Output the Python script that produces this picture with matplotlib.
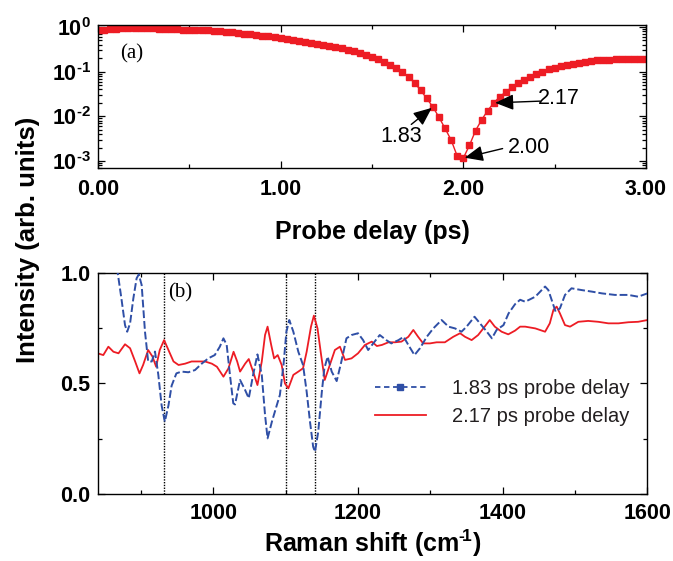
import numpy as np
import matplotlib
matplotlib.use("Agg")
import matplotlib.pyplot as plt
from matplotlib.lines import Line2D
from matplotlib.ticker import MultipleLocator, FuncFormatter, LogLocator, NullFormatter

# ---------------- data ----------------
# (a) signal vs probe delay (uniform sampling, 1/30 ps)
probe_delay_ps = np.linspace(0.0, 3.0, 91)
signal_a = [0.851, 0.871, 0.891, 0.912, 0.923, 0.933, 0.933, 0.933, 0.933, 0.923,
            0.912, 0.902, 0.891, 0.881, 0.871, 0.861, 0.851, 0.841, 0.832, 0.813,
            0.794, 0.776, 0.759, 0.733, 0.708, 0.684, 0.661, 0.631, 0.610, 0.589,
            0.562, 0.537, 0.513, 0.490, 0.468, 0.447, 0.422, 0.398, 0.372, 0.351,
            0.331, 0.302, 0.282, 0.257, 0.234, 0.214, 0.191, 0.166, 0.141, 0.120,
            0.0977, 0.0759, 0.0562, 0.0380, 0.0251, 0.0162, 0.00955, 0.00537, 0.00295, 0.00129,
            0.00117, 0.00224, 0.00479, 0.00832, 0.0135, 0.0200, 0.0275, 0.0355, 0.0447, 0.0550,
            0.0661, 0.0776, 0.0891, 0.100, 0.112, 0.123, 0.132, 0.141, 0.151, 0.158,
            0.166, 0.172, 0.178, 0.182, 0.186, 0.188, 0.191, 0.191, 0.191, 0.191, 0.191]

annot_labels = ["1.83", "2.00", "2.17"]
annot_index = [55, 60, 65]

# (b) Raman spectra
shift_183 = [840, 850, 860, 868, 873, 878, 881, 885, 889.5, 894, 897, 901, 905.6, 910, 915,
             919.4, 924, 928.6, 933, 938, 942.4, 949, 956, 965.5, 974.7, 984, 993, 1002, 1009,
             1014, 1018.5, 1023, 1027.6, 1030, 1037, 1044, 1049, 1055, 1061, 1067, 1071.5, 1075,
             1081, 1087.6, 1092, 1097, 1101, 1105, 1110.6, 1117.5, 1124, 1129, 1133.6, 1138,
             1140.5, 1145, 1150, 1153.5, 1158, 1163.6, 1170.5, 1177, 1184, 1191, 1200, 1207,
             1214, 1221, 1230, 1239, 1246, 1256, 1263, 1269.5, 1278, 1285.6, 1295, 1304, 1315.5,
             1325, 1334, 1343, 1350, 1361, 1368.5, 1378, 1385, 1391.5, 1401, 1408, 1417, 1424,
             1431, 1445, 1458.5, 1463, 1467.6, 1473, 1479, 1486, 1495, 1509, 1523, 1537, 1555,
             1573.5, 1587, 1600]
intensity_183 = [1.20, 1.15, 1.08, 1.00, 0.886, 0.765, 0.735, 0.773, 0.886, 0.977, 0.995, 0.947,
                 0.735, 0.600, 0.600, 0.645, 0.540, 0.400, 0.327, 0.400, 0.490, 0.546, 0.554,
                 0.551, 0.561, 0.590, 0.614, 0.629, 0.667, 0.705, 0.675, 0.539, 0.410, 0.405,
                 0.516, 0.470, 0.433, 0.539, 0.632, 0.539, 0.357, 0.251, 0.327, 0.400, 0.448,
                 0.584, 0.735, 0.788, 0.735, 0.644, 0.584, 0.463, 0.327, 0.213, 0.190, 0.281,
                 0.463, 0.569, 0.622, 0.554, 0.511, 0.600, 0.705, 0.720, 0.728, 0.697, 0.652,
                 0.682, 0.720, 0.697, 0.682, 0.697, 0.712, 0.675, 0.629, 0.660, 0.712, 0.750,
                 0.788, 0.758, 0.750, 0.735, 0.758, 0.803, 0.773, 0.735, 0.705, 0.743, 0.765,
                 0.818, 0.860, 0.880, 0.871, 0.894, 0.940, 0.924, 0.879, 0.826, 0.841, 0.902,
                 0.932, 0.924, 0.917, 0.909, 0.902, 0.902, 0.894, 0.909]

shift_217 = [840, 848, 855, 862, 869, 878, 885, 892, 898, 903, 910, 916, 921, 926, 932, 938,
             945, 952, 961, 970, 979, 988.5, 998, 1005, 1014, 1021, 1028, 1033, 1037, 1044,
             1049, 1055, 1061, 1067, 1071.5, 1075, 1080, 1084, 1089, 1094.5, 1099, 1103.7,
             1110.6, 1117.5, 1124, 1129, 1135, 1139, 1144, 1149, 1154, 1161, 1168, 1175, 1182,
             1191, 1200, 1209.6, 1219, 1226, 1233, 1242, 1251, 1260, 1269.5, 1276.4, 1283, 1290,
             1299.4, 1308.6, 1320, 1331.6, 1341, 1347.8, 1357, 1366, 1375, 1382, 1389, 1398.4,
             1407.6, 1417, 1424, 1431, 1445, 1458.5, 1465, 1470, 1474.5, 1479, 1486, 1493,
             1504.4, 1518, 1532, 1546, 1560, 1573.5, 1587, 1600]
intensity_217 = [0.637, 0.629, 0.667, 0.644, 0.637, 0.678, 0.660, 0.600, 0.546, 0.584, 0.652,
                 0.622, 0.576, 0.652, 0.697, 0.652, 0.600, 0.584, 0.590, 0.600, 0.600, 0.600,
                 0.590, 0.576, 0.531, 0.569, 0.644, 0.600, 0.554, 0.590, 0.611, 0.554, 0.493,
                 0.600, 0.720, 0.758, 0.675, 0.614, 0.629, 0.584, 0.500, 0.478, 0.539, 0.554,
                 0.569, 0.644, 0.758, 0.808, 0.750, 0.629, 0.516, 0.584, 0.652, 0.667, 0.607,
                 0.614, 0.637, 0.675, 0.690, 0.670, 0.675, 0.687, 0.687, 0.690, 0.712, 0.743,
                 0.712, 0.682, 0.682, 0.687, 0.687, 0.712, 0.728, 0.712, 0.697, 0.720, 0.758,
                 0.788, 0.758, 0.735, 0.723, 0.740, 0.758, 0.758, 0.750, 0.735, 0.773, 0.834,
                 0.849, 0.818, 0.765, 0.758, 0.780, 0.784, 0.780, 0.773, 0.773, 0.778, 0.780,
                 0.788]

marker_shifts = [932, 1100, 1140]
legend_labels = ["1.83 ps probe delay", "2.17 ps probe delay"]

# ---------------- style ----------------
RED = "#ed1c24"
BLUE = "#2f4fa6"
TICKFONT = ["Liberation Sans", "DejaVu Sans"]
LABELFONT = ["Liberation Sans", "DejaVu Sans"]
TEXTFONT = ["Liberation Sans", "DejaVu Sans"]
SERIF = ["Liberation Serif", "DejaVu Serif"]

plt.rcParams["mathtext.fontset"] = "custom"
plt.rcParams["mathtext.rm"] = "Liberation Sans:bold"
plt.rcParams["mathtext.it"] = "Liberation Sans:bold"
plt.rcParams["mathtext.bf"] = "Liberation Sans:bold"
plt.rcParams["mathtext.sf"] = "Liberation Sans:bold"

fig = plt.figure(figsize=(6.73, 5.61), dpi=100)
ax1 = fig.add_axes([0.1456, 0.7005, 0.8143, 0.2549])
ax2 = fig.add_axes([0.1449, 0.1200, 0.8172, 0.3928])

def style_axes(ax, xpad=6):
    ax.tick_params(which="both", direction="in", top=True, right=True, width=0.9)
    ax.tick_params(which="major", length=5)
    ax.tick_params(which="minor", length=3)
    ax.tick_params(axis="x", which="major", pad=xpad)
    ax.tick_params(axis="y", which="major", pad=5)
    for s in ax.spines.values():
        s.set_linewidth(1.0)
    for lab in ax.get_xticklabels() + ax.get_yticklabels():
        lab.set_family(TICKFONT)
        lab.set_weight("bold")
        lab.set_size(15.5)

# ---- panel (a) ----
ax1.plot(probe_delay_ps, signal_a, color=RED, lw=1.0, marker="s", ms=4.8,
         mec=RED, mfc=RED)
ax1.set_yscale("log")
ax1.set_xlim(0, 3)
ax1.set_ylim(7e-4, 1.1)
ax1.xaxis.set_major_locator(MultipleLocator(1.0))
ax1.xaxis.set_minor_locator(MultipleLocator(0.5))
ax1.xaxis.set_major_formatter(FuncFormatter(lambda v, p: f"{v:.2f}"))
ax1.yaxis.set_major_locator(LogLocator(base=10, numticks=10))
ax1.yaxis.set_minor_locator(LogLocator(base=10, subs=np.arange(2, 10), numticks=20))
ax1.yaxis.set_minor_formatter(NullFormatter())
ax1.yaxis.set_major_formatter(
    FuncFormatter(lambda v, p: r"$\mathbf{10^{%s}}$" % ("\u2010%d" % -round(np.log10(v))
                                                        if round(np.log10(v)) < 0 else "0")))
style_axes(ax1, xpad=8)
ax1.set_xlabel("Probe delay (ps)", family=LABELFONT, weight="bold", size=18, labelpad=14)
ax1.text(0.04, 0.80, "(a)", transform=ax1.transAxes, family=SERIF, size=15,
         ha="left", va="center")

text_pos = [(1.66, 10 ** -2.46), (2.36, 10 ** -2.69), (2.52, 10 ** -1.61)]
tail_pos = [(1.715, 10 ** -2.18), (2.215, 10 ** -2.72), (2.42, 10 ** -1.66)]
for lab, idx, tp, tl in zip(annot_labels, annot_index, text_pos, tail_pos):
    ax1.text(tp[0], tp[1], lab, family=TEXTFONT, size=15.5, ha="center", va="center")
    ax1.annotate("", xy=(probe_delay_ps[idx], signal_a[idx]), xytext=tl,
                 arrowprops=dict(arrowstyle="-|>,head_length=0.7,head_width=0.3",
                                 color="black", lw=1.0,
                                 mutation_scale=16, shrinkA=0, shrinkB=1))

# ---- panel (b) ----
for xs in marker_shifts:
    ax2.axvline(xs, color="black", lw=1.0, ls=(0, (1, 1)), zorder=1)
ax2.plot(shift_183, intensity_183, color=BLUE, lw=1.4, ls=(0, (4, 1.5)), zorder=3)
ax2.plot(shift_217, intensity_217, color=RED, lw=1.3, zorder=2)
ax2.set_xlim(840, 1600)
ax2.set_ylim(0, 1.0)
ax2.xaxis.set_major_locator(MultipleLocator(200))
ax2.xaxis.set_minor_locator(MultipleLocator(100))
ax2.yaxis.set_major_locator(MultipleLocator(0.5))
ax2.yaxis.set_minor_locator(MultipleLocator(0.25))
ax2.yaxis.set_major_formatter(FuncFormatter(lambda v, p: f"{v:.1f}"))
style_axes(ax2, xpad=7)
ax2.set_xlabel("Raman shift (cm$^{\u2010\\!1}$)", family=LABELFONT, weight="bold",
               size=18, labelpad=2)
ax2.text(0.128, 0.91, "(b)", transform=ax2.transAxes, family=SERIF, size=15,
         ha="left", va="center")

handles = [Line2D([], [], color=BLUE, lw=1.3, ls=(0, (3, 2)), marker="s", ms=4),
           Line2D([], [], color=RED, lw=1.3)]
leg = ax2.legend(handles, legend_labels, loc="center left", bbox_to_anchor=(0.505, 0.415),
                 frameon=False, numpoints=1, handlelength=2.5, handletextpad=1.3,
                 labelspacing=0.45, borderpad=0, borderaxespad=0,
                 prop=dict(family=TEXTFONT, size=14.5))
for t in leg.get_texts():
    t.set_color("#231f20")

fig.text(28 / 673, 1 - 240 / 561, "Intensity (arb. units)", rotation=90, ha="center",
         va="center", family=LABELFONT, weight="bold", size=18.5)

fig.savefig("out.png", dpi=100)
